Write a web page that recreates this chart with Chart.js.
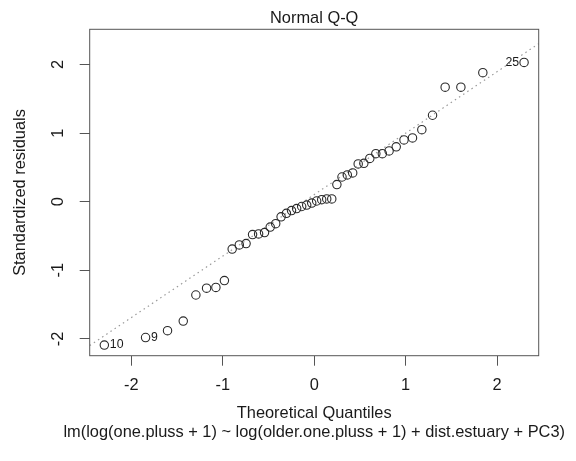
<!DOCTYPE html>
<html><head><meta charset="utf-8">
<script src="https://cdn.jsdelivr.net/npm/chart.js@4/dist/chart.umd.min.js"></script>
<style>html,body{margin:0;padding:0;background:#fff;}#wrap{width:576px;height:461px;}</style>
</head><body><div id="wrap"><canvas id="c" width="576" height="461"></canvas></div>
<script>
// Theoretical normal quantiles (x) read for the 46 points
const theoreticalQuantiles = [-2.295,-1.844,-1.604,-1.432,-1.294,-1.177,-1.075,-0.982,-0.897,-0.819,-0.745,-0.674,-0.608,-0.543,-0.481,-0.421,-0.362,-0.304,-0.248,-0.192,-0.137,-0.082,-0.027,0.027,0.082,0.137,0.192,0.248,0.304,0.362,0.421,0.481,0.543,0.608,0.674,0.745,0.819,0.897,0.982,1.075,1.177,1.294,1.432,1.604,1.844,2.295];
// Sorted standardized residuals (y)
const standardizedResiduals = [-2.09,-1.98,-1.88,-1.74,-1.36,-1.26,-1.25,-1.15,-0.69,-0.63,-0.61,-0.48,-0.47,-0.45,-0.37,-0.32,-0.22,-0.17,-0.13,-0.10,-0.07,-0.05,-0.02,0.01,0.03,0.04,0.04,0.25,0.36,0.39,0.42,0.55,0.56,0.63,0.70,0.70,0.74,0.80,0.90,0.93,1.05,1.26,1.67,1.67,1.88,2.03];
// Reference (qqline) endpoints
const qqLineX = [-2.455, 2.455];
const qqLineY = [-2.097, 2.303];
// Identified points
const labelIndices = [0, 1, 45];
const labelTexts = ['10', '9', '25'];
// Axis ticks and ranges
const xTickValues = [-2, -1, 0, 1, 2];
const yTickValues = [-2, -1, 0, 1, 2];
const xRange = [-2.455, 2.455];
const yRange = [-2.245, 2.513];
// Texts
const mainTitle = 'Normal Q-Q';
const xTitle = 'Theoretical Quantiles';
const yTitle = 'Standardized residuals';
const subTitle = 'lm(log(one.pluss + 1) ~ log(older.one.pluss + 1) + dist.estuary + PC3)';

const FONT = '"Liberation Sans", Arial, Helvetica, sans-serif';
const FS = 16.4;
const INK = '#1a1a1a';
const LINE = '#555';

Chart.defaults.font.family = FONT;
Chart.defaults.font.size = FS;
Chart.defaults.color = INK;

const pts = theoreticalQuantiles.map((x, i) => ({x: x, y: standardizedResiduals[i]}));
const linePts = qqLineX.map((x, i) => ({x: x, y: qqLineY[i]}));

const decor = {
  id: 'decor',
  afterDraw(chart) {
    const ctx = chart.ctx, a = chart.chartArea;
    const xs = chart.scales.x, ys = chart.scales.y;
    ctx.save();
    // box
    ctx.strokeStyle = LINE; ctx.lineWidth = 1;
    ctx.strokeRect(a.left, a.top, a.right - a.left, a.bottom - a.top);
    const cx = (a.left + a.right) / 2;
    ctx.fillStyle = INK;
    ctx.font = FS + 'px ' + FONT;
    ctx.textAlign = 'center'; ctx.textBaseline = 'alphabetic';
    ctx.fillText(mainTitle, cx, 23);
    ctx.fillText(xTitle, cx, 418);
    ctx.fillText(subTitle, cx, 437);
    ctx.save();
    ctx.translate(25, (a.top + a.bottom) / 2);
    ctx.rotate(-Math.PI / 2);
    ctx.fillText(yTitle, 0, 0);
    ctx.restore();
    // point labels
    ctx.font = '12.3px ' + FONT;
    ctx.textBaseline = 'middle';
    const mean = theoreticalQuantiles.reduce((s, v) => s + v, 0) / theoreticalQuantiles.length;
    labelIndices.forEach((idx, k) => {
      const px = xs.getPixelForValue(theoreticalQuantiles[idx]);
      const py = ys.getPixelForValue(standardizedResiduals[idx]);
      if (theoreticalQuantiles[idx] < mean) { ctx.textAlign = 'left'; ctx.fillText(labelTexts[k], px + 5.5, py); }
      else { ctx.textAlign = 'right'; ctx.fillText(labelTexts[k], px - 5, py); }
    });
    ctx.restore();
  }
};

new Chart(document.getElementById('c'), {
  type: 'scatter',
  data: {
    datasets: [
      {
        type: 'line', data: linePts, showLine: true, borderColor: '#9a9a9a', borderWidth: 1.2,
        borderDash: [1.5, 3.5], pointRadius: 0, fill: false, order: 2
      },
      {
        data: pts, pointRadius: 4.2, pointBorderWidth: 1.1, pointBorderColor: '#2a2a2a',
        pointBackgroundColor: 'rgba(0,0,0,0)', showLine: false, order: 1
      }
    ]
  },
  options: {
    responsive: false, animation: false, devicePixelRatio: 1,
    layout: { padding: { top: 29.3, right: 37.3, bottom: 0, left: 0 } },
    plugins: { legend: { display: false }, tooltip: { enabled: false }, title: { display: false } },
    scales: {
      x: {
        type: 'linear', position: 'bottom', min: xRange[0], max: xRange[1],
        afterBuildTicks: s => { s.ticks = xTickValues.map(v => ({value: v})); },
        afterFit: s => { s.height = 105.3; },
        grid: { drawOnChartArea: false, drawTicks: true, tickLength: 10, tickColor: LINE, tickWidth: 1 },
        border: { display: false },
        ticks: { padding: 10, color: INK, font: { size: FS }, maxRotation: 0, minRotation: 0, includeBounds: false,
                 callback: v => String(v) }
      },
      y: {
        type: 'linear', position: 'left', min: yRange[0], max: yRange[1],
        afterBuildTicks: s => { s.ticks = yTickValues.map(v => ({value: v})); },
        afterFit: s => { s.width = 89.7; },
        grid: { drawOnChartArea: false, drawTicks: true, tickLength: 10, tickColor: LINE, tickWidth: 1 },
        border: { display: false },
        ticks: { padding: 14, color: INK, font: { size: FS }, minRotation: 90, maxRotation: 90, crossAlign: 'center',
                 includeBounds: false, callback: v => String(v) }
      }
    }
  },
  plugins: [decor]
});
</script></body></html>
